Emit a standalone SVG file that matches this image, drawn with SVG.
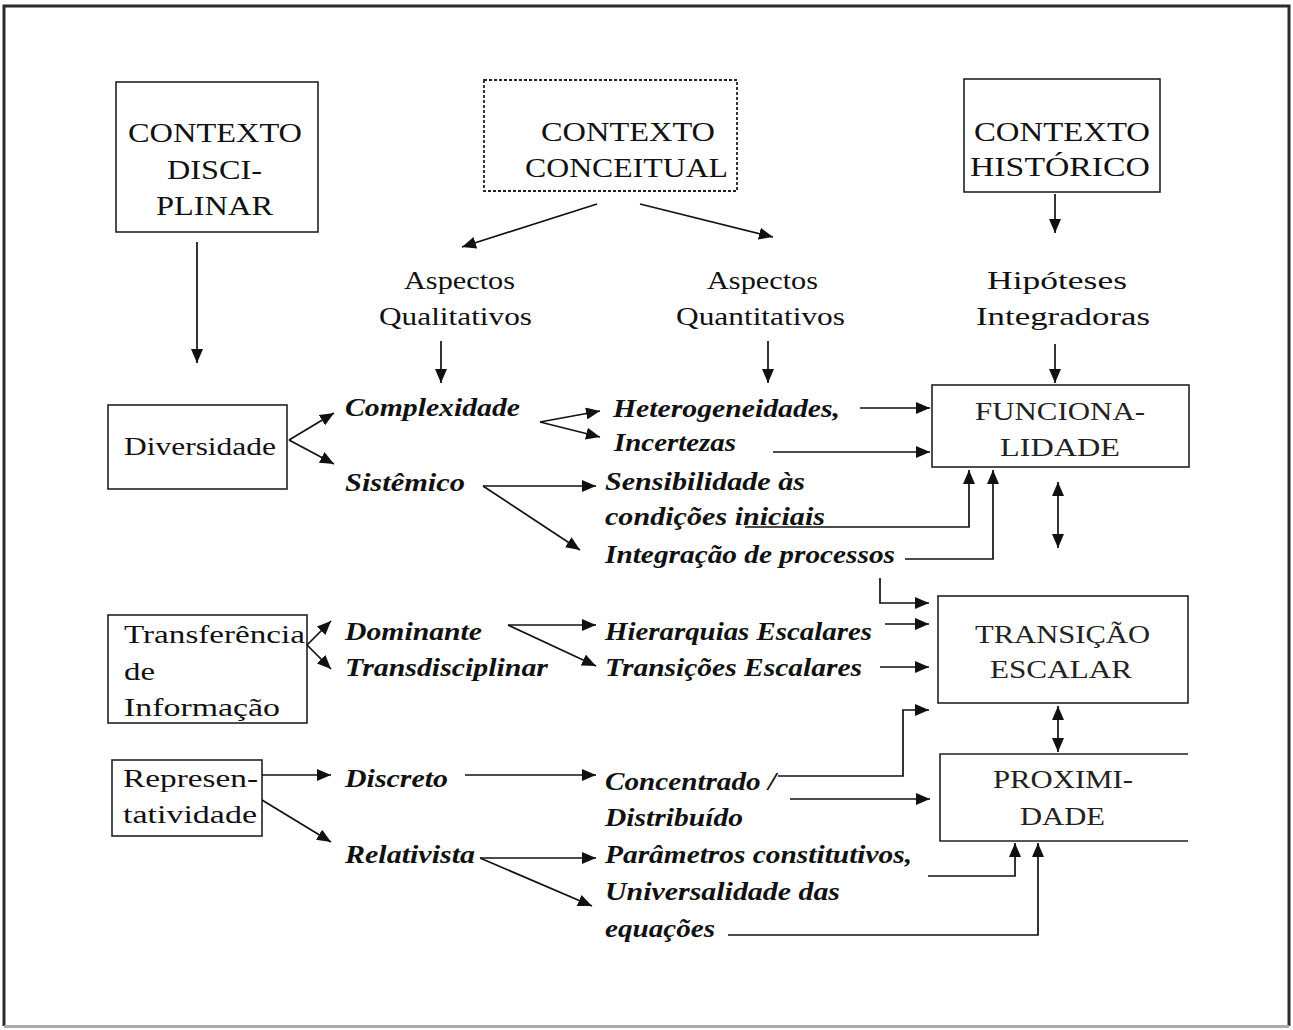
<svg xmlns="http://www.w3.org/2000/svg" width="1293" height="1030" viewBox="0 0 1293 1030">
<style>
.box{fill:#fff;stroke:#222;stroke-width:1.6}
.dash{fill:#fff;stroke:#222;stroke-width:1.8;stroke-dasharray:3 2}
.t{font-family:"Liberation Serif","Times New Roman",serif;fill:#111}
.title{font-size:28px}
.lbl{font-size:26px}
.it{font-size:26px;font-style:italic;font-weight:bold}
.thin{font-size:26px;fill:#222}
.c{fill:none;stroke:#111;stroke-width:1.7}
</style>
<defs>
<marker id="ah" viewBox="0 0 14 12" refX="14" refY="6" markerWidth="14" markerHeight="12" markerUnits="userSpaceOnUse" orient="auto-start-reverse">
<path d="M0,0 L14,6 L0,12 Z" fill="#111"/>
</marker>
</defs>
<rect width="1293" height="1030" fill="#fff"/>
<path d="M4,1026 V6 H1289 V1026" fill="none" stroke="#2a2a2a" stroke-width="3"/>
<path d="M4,1026.5 H1289" stroke="#aaa" stroke-width="3"/>

<g id="contexto-disciplinar">
<rect class="box" x="116" y="82" width="202" height="150"/>
<text class="t title" x="128" y="142" textLength="174" lengthAdjust="spacingAndGlyphs">CONTEXTO</text>
<text class="t title" x="167" y="179" textLength="95" lengthAdjust="spacingAndGlyphs">DISCI-</text>
<text class="t title" x="156" y="215" textLength="117" lengthAdjust="spacingAndGlyphs">PLINAR</text>
</g>
<g id="contexto-conceitual">
<rect class="dash" x="484" y="80" width="253" height="111"/>
<text class="t title" x="541" y="141" textLength="174" lengthAdjust="spacingAndGlyphs">CONTEXTO</text>
<text class="t title" x="525" y="177" textLength="203" lengthAdjust="spacingAndGlyphs">CONCEITUAL</text>
</g>
<g id="contexto-historico">
<rect class="box" x="964" y="79" width="196" height="113"/>
<text class="t title" x="974" y="141" textLength="176" lengthAdjust="spacingAndGlyphs">CONTEXTO</text>
<text class="t title" x="970" y="176" textLength="180" lengthAdjust="spacingAndGlyphs">HISTÓRICO</text>
</g>
<g id="aspectos-qualitativos">
<text class="t lbl" x="404" y="289" textLength="111" lengthAdjust="spacingAndGlyphs">Aspectos</text>
<text class="t lbl" x="379" y="325" textLength="153" lengthAdjust="spacingAndGlyphs">Qualitativos</text>
</g>
<g id="aspectos-quantitativos">
<text class="t lbl" x="707" y="289" textLength="111" lengthAdjust="spacingAndGlyphs">Aspectos</text>
<text class="t lbl" x="676" y="325" textLength="169" lengthAdjust="spacingAndGlyphs">Quantitativos</text>
</g>
<g id="hipoteses-integradoras">
<text class="t lbl" x="987" y="289" textLength="140" lengthAdjust="spacingAndGlyphs">Hipóteses</text>
<text class="t lbl" x="976" y="325" textLength="174" lengthAdjust="spacingAndGlyphs">Integradoras</text>
</g>
<g id="diversidade">
<rect class="box" x="108" y="405" width="179" height="84"/>
<text class="t lbl" x="124" y="455" textLength="152" lengthAdjust="spacingAndGlyphs">Diversidade</text>
</g>
<g id="complexidade"><text class="t it" x="345" y="416" textLength="175" lengthAdjust="spacingAndGlyphs">Complexidade</text></g>
<g id="sistemico"><text class="t it" x="345" y="491" textLength="120" lengthAdjust="spacingAndGlyphs">Sistêmico</text></g>
<g id="heterogeneidades">
<text class="t it" x="613" y="417" textLength="227" lengthAdjust="spacingAndGlyphs">Heterogeneidades,</text>
<text class="t it" x="614" y="451" textLength="122" lengthAdjust="spacingAndGlyphs">Incertezas</text>
</g>
<g id="sensibilidade">
<text class="t it" x="605" y="490" textLength="200" lengthAdjust="spacingAndGlyphs">Sensibilidade às</text>
<text class="t it" x="605" y="525" textLength="220" lengthAdjust="spacingAndGlyphs">condições iniciais</text>
</g>
<g id="integracao"><text class="t it" x="605" y="563" textLength="290" lengthAdjust="spacingAndGlyphs">Integração de processos</text></g>
<g id="funcionalidade">
<rect class="box" x="932" y="385" width="257" height="82"/>
<text class="t thin" x="975" y="420" textLength="170" lengthAdjust="spacingAndGlyphs">FUNCIONA-</text>
<text class="t thin" x="1000" y="456" textLength="120" lengthAdjust="spacingAndGlyphs">LIDADE</text>
</g>
<g id="transferencia">
<rect class="box" x="108" y="615" width="199" height="108"/>
<text class="t lbl" x="124" y="643" textLength="181" lengthAdjust="spacingAndGlyphs">Transferência</text>
<text class="t lbl" x="124" y="680" textLength="31" lengthAdjust="spacingAndGlyphs">de</text>
<text class="t lbl" x="124" y="716" textLength="156" lengthAdjust="spacingAndGlyphs">Informação</text>
</g>
<g id="dominante"><text class="t it" x="345" y="640" textLength="137" lengthAdjust="spacingAndGlyphs">Dominante</text></g>
<g id="transdisciplinar"><text class="t it" x="345" y="676" textLength="203" lengthAdjust="spacingAndGlyphs">Transdisciplinar</text></g>
<g id="hierarquias"><text class="t it" x="605" y="640" textLength="267" lengthAdjust="spacingAndGlyphs">Hierarquias Escalares</text></g>
<g id="transicoes"><text class="t it" x="605" y="676" textLength="257" lengthAdjust="spacingAndGlyphs">Transições Escalares</text></g>
<g id="transicao-escalar">
<rect class="box" x="938" y="596" width="250" height="107"/>
<text class="t thin" x="975" y="643" textLength="175" lengthAdjust="spacingAndGlyphs">TRANSIÇÃO</text>
<text class="t thin" x="990" y="678" textLength="142" lengthAdjust="spacingAndGlyphs">ESCALAR</text>
</g>
<g id="representatividade">
<rect class="box" x="112" y="760" width="150" height="76"/>
<text class="t lbl" x="123" y="787" textLength="135" lengthAdjust="spacingAndGlyphs">Represen-</text>
<text class="t lbl" x="123" y="823" textLength="134" lengthAdjust="spacingAndGlyphs">tatividade</text>
</g>
<g id="discreto"><text class="t it" x="345" y="787" textLength="103" lengthAdjust="spacingAndGlyphs">Discreto</text></g>
<g id="relativista"><text class="t it" x="345" y="863" textLength="130" lengthAdjust="spacingAndGlyphs">Relativista</text></g>
<g id="concentrado">
<text class="t it" x="605" y="790" textLength="171" lengthAdjust="spacingAndGlyphs">Concentrado /</text>
<text class="t it" x="605" y="826" textLength="138" lengthAdjust="spacingAndGlyphs">Distribuído</text>
</g>
<g id="parametros">
<text class="t it" x="605" y="863" textLength="307" lengthAdjust="spacingAndGlyphs">Parâmetros constitutivos,</text>
<text class="t it" x="605" y="900" textLength="235" lengthAdjust="spacingAndGlyphs">Universalidade das</text>
<text class="t it" x="605" y="937" textLength="110" lengthAdjust="spacingAndGlyphs">equações</text>
</g>
<g id="proximidade">
<path d="M1188,754 H940 V841 H1188" class="box"/>
<text class="t thin" x="993" y="788" textLength="140" lengthAdjust="spacingAndGlyphs">PROXIMI-</text>
<text class="t thin" x="1020" y="825" textLength="85" lengthAdjust="spacingAndGlyphs">DADE</text>
</g>

<g id="connectors" class="c">
<path class="c" d="M197,242 V363" marker-end="url(#ah)"/>
<path class="c" d="M597,204 L462,247" marker-end="url(#ah)"/>
<path class="c" d="M640,204 L773,237" marker-end="url(#ah)"/>
<path class="c" d="M1055,194 V233" marker-end="url(#ah)"/>
<path class="c" d="M441,341 V383" marker-end="url(#ah)"/>
<path class="c" d="M768,341 V383" marker-end="url(#ah)"/>
<path class="c" d="M1055,344 V383" marker-end="url(#ah)"/>
<path class="c" d="M289,440 L334,413" marker-end="url(#ah)"/>
<path class="c" d="M289,440 L334,464" marker-end="url(#ah)"/>
<path class="c" d="M540,422 L600,411" marker-end="url(#ah)"/>
<path class="c" d="M540,422 L600,437" marker-end="url(#ah)"/>
<path class="c" d="M860,408 H930" marker-end="url(#ah)"/>
<path class="c" d="M773,452 H930" marker-end="url(#ah)"/>
<path class="c" d="M483,486 H596" marker-end="url(#ah)"/>
<path class="c" d="M483,486 L580,550" marker-end="url(#ah)"/>
<path class="c" d="M745,527 H969 V470" marker-end="url(#ah)"/>
<path class="c" d="M905,559 H993 V470" marker-end="url(#ah)"/>
<path class="c" d="M1058,482 V548" marker-start="url(#ah)" marker-end="url(#ah)"/>
<path class="c" d="M880,578 V603 H929" marker-end="url(#ah)"/>
<path class="c" d="M307,645 L331,621" marker-end="url(#ah)"/>
<path class="c" d="M307,645 L331,669" marker-end="url(#ah)"/>
<path class="c" d="M508,625 H596" marker-end="url(#ah)"/>
<path class="c" d="M508,625 L596,666" marker-end="url(#ah)"/>
<path class="c" d="M885,624 H929" marker-end="url(#ah)"/>
<path class="c" d="M880,667 H929" marker-end="url(#ah)"/>
<path class="c" d="M778,776 H903 V710 H929" marker-end="url(#ah)"/>
<path class="c" d="M790,799 H930" marker-end="url(#ah)"/>
<path class="c" d="M1058,706 V752" marker-start="url(#ah)" marker-end="url(#ah)"/>
<path class="c" d="M262,775 H331" marker-end="url(#ah)"/>
<path class="c" d="M262,800 L331,842" marker-end="url(#ah)"/>
<path class="c" d="M465,775 H596" marker-end="url(#ah)"/>
<path class="c" d="M480,858 H596" marker-end="url(#ah)"/>
<path class="c" d="M480,858 L592,906" marker-end="url(#ah)"/>
<path class="c" d="M928,876 H1015 V843" marker-end="url(#ah)"/>
<path class="c" d="M728,935 H1038 V843" marker-end="url(#ah)"/>
</g>
</svg>
